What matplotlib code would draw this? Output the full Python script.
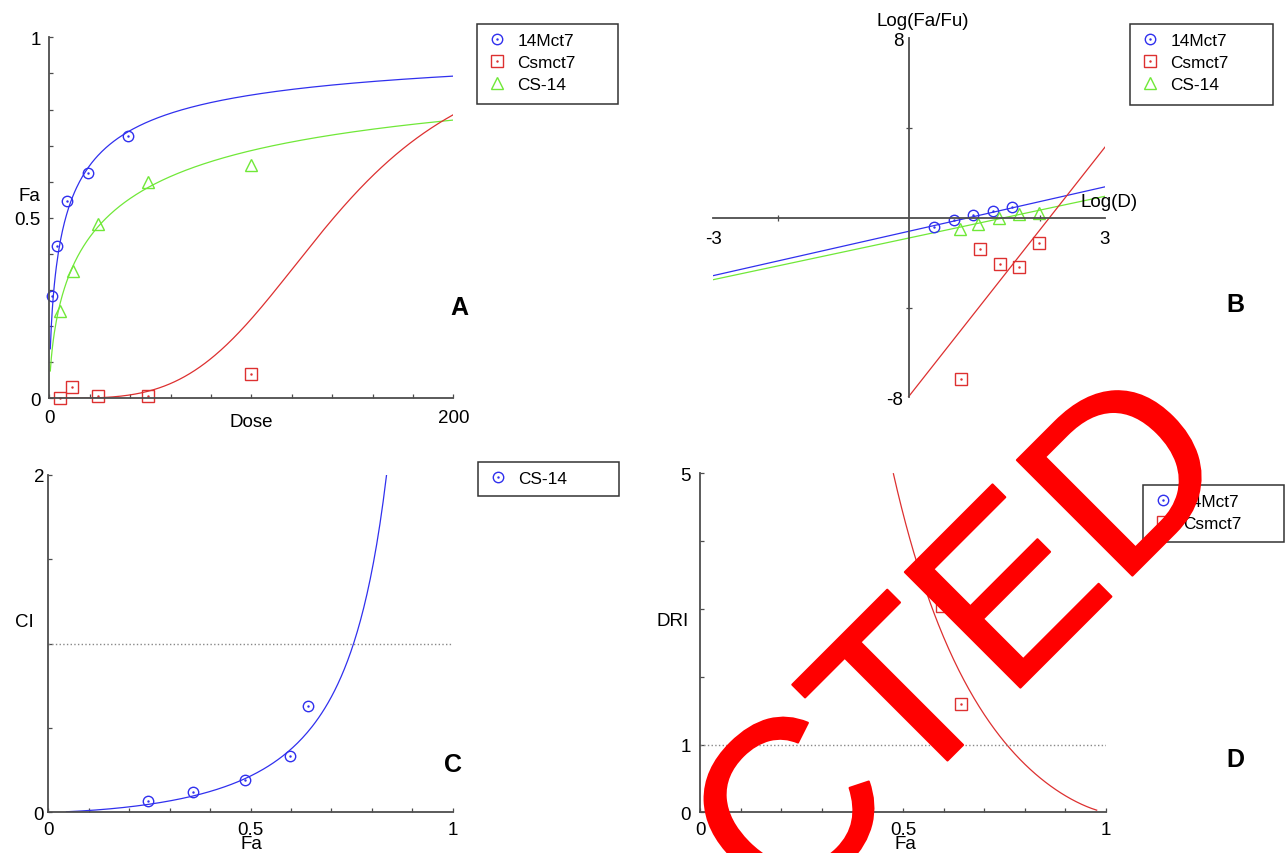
"""Four-panel drug combination figure: dose-effect, median-effect, CI and DRI."""

import numpy as np
import matplotlib

matplotlib.use("Agg")
import matplotlib.pyplot as plt
import matplotlib.patheffects as pe
from matplotlib.legend_handler import HandlerTuple
from matplotlib.patches import Rectangle

plt.rcParams["font.family"] = ["Liberation Sans", "DejaVu Sans"]

W, H = 1285, 854

# --- panel A: dose-effect points -------------------------------------------
a_dose_14 = [1.2, 4.0, 8.6, 19.0, 39.1]
a_fa_14 = [0.282, 0.421, 0.547, 0.624, 0.726]
a_dose_cs = [5.3, 11.4, 23.9, 49.0, 99.7]
a_fa_cs = [0.0, 0.032, 0.005, 0.005, 0.067]
a_dose_combo = [5.3, 11.6, 23.9, 49.0, 99.7]
a_fa_combo = [0.243, 0.354, 0.483, 0.598, 0.645]

# median-effect fit parameters (m, Dm)
m_14, dm_14 = 0.66, 8.1
m_cs, dm_cs = 3.7, 140.8
m_combo, dm_combo = 0.62, 28.3

# --- panel B: median-effect plot points --------------------------------------
b_logd_14 = [0.39, 0.69, 0.98, 1.28, 1.58]
b_logfa_14 = [-0.40, -0.10, 0.12, 0.31, 0.49]
b_logd_cs = [0.79, 1.08, 1.39, 1.68, 1.99]
b_logfa_cs = [-7.18, -1.41, -2.04, -2.18, -1.14]
b_logd_combo = [0.78, 1.06, 1.38, 1.68, 1.99]
b_logfa_combo = [-0.50, -0.28, -0.03, 0.16, 0.20]

# --- panel C: combination index ---------------------------------------------
c_fa = [0.247, 0.357, 0.487, 0.598, 0.641]
c_ci = [0.065, 0.118, 0.19, 0.335, 0.63]
ci_coef, ci_exp = 0.215, 1.367
ci_fa_range = (0.045, 0.84)

# --- panel D: dose reduction index ------------------------------------------
d_fa_cs = [0.595, 0.642]
d_dri_cs = [3.05, 1.60]
dri_coef, dri_exp = 4.40, 1.317
dri_fa_range = (0.476, 0.977)

BLUE = "#3030ee"
RED = "#dd3030"
GREEN = "#70e838"
SPINE = "#4d4d4d"


def px_axes(left, right, top, bottom):
    return [left / W, 1 - bottom / H, (right - left) / W, (bottom - top) / H]


def style(ax, pad):
    for side in ("top", "right"):
        ax.spines[side].set_visible(False)
    for side in ("left", "bottom"):
        ax.spines[side].set_color(SPINE)
        ax.spines[side].set_linewidth(1.3)
    ax.tick_params(which="both", direction="in", length=3, width=0.9,
                   color=SPINE, labelsize=13.5, pad=pad)
    ax.patch.set_alpha(0)


def points(ax, x, y, marker, color, size, dot=True):
    h = ax.plot(x, y, marker, ls="none", mfc="none", mec=color, ms=size, mew=1.0,
                clip_on=False)[0]
    if not dot:
        return h
    d = ax.plot(x, y, ".", ls="none", color=color, ms=1.5, clip_on=False)[0]
    return (h, d)


def legend(ax, handles, labels, box):
    x0, y0, x1, y1 = box
    fig = ax.figure
    fig.add_artist(Rectangle((x0 / W, 1 - y1 / H), (x1 - x0) / W, (y1 - y0) / H,
                             transform=fig.transFigure, fill=False,
                             edgecolor="#333333", lw=1.1))
    ax.legend(handles, labels, loc="upper left",
              bbox_to_anchor=((x0 + 10) / W, 1 - (y0 + 9) / H),
              bbox_transform=fig.transFigure, frameon=False, borderpad=0,
              borderaxespad=0, fontsize=12.4, handlelength=1.2,
              handletextpad=0.56, labelspacing=0.4,
              handler_map={tuple: HandlerTuple(ndivide=1, pad=0)})


def panel_letter(fig, s, x, y):
    fig.text(x / W, 1 - y / H, s, fontsize=18, fontweight="bold",
             ha="center", va="center")


fig = plt.figure(figsize=(W / 100, H / 100), dpi=100)

# ---------------- A ----------------
ax = fig.add_axes(px_axes(49.3, 453.3, 38.3, 399.3))
style(ax, 6)
dose = np.linspace(0.5, 200, 400)
for m, dm, col in ((m_14, dm_14, BLUE), (m_combo, dm_combo, GREEN), (m_cs, dm_cs, RED)):
    ax.plot(dose, 1 / (1 + (dm / dose) ** m), color=col, lw=0.9)
h1 = points(ax, a_dose_14, a_fa_14, "o", BLUE, 7.5)
h2 = points(ax, a_dose_cs, a_fa_cs, "s", RED, 9)
h3 = points(ax, a_dose_combo, a_fa_combo, "^", GREEN, 9, dot=False)
ax.set_xlim(0, 200)
ax.set_ylim(0, 1)
ax.set_xticks([0, 200])
ax.set_xticks(np.arange(20, 200, 20), minor=True)
ax.set_yticks([0, 0.5, 1], ["0", "0.5", "1"])
ax.set_yticks(np.arange(0.1, 1, 0.1), minor=True)
ax.tick_params(axis="x", pad=8)
ax.set_xlabel("Dose", fontsize=13.5, va="center")
ax.xaxis.set_label_coords(0.501, -0.064)
ax.set_ylabel("Fa", fontsize=13.5, rotation=0, ha="center", va="center")
ax.yaxis.set_label_coords(-0.0495, 0.563)
legend(ax, [h1, h2, h3], ["14Mct7", "Csmct7", "CS-14"], (477, 25, 618, 105))
panel_letter(fig, "A", 459, 308)

# ---------------- B ----------------
ax = fig.add_axes(px_axes(713, 1105, 39.3, 398.3))
style(ax, 4)
ax.spines["left"].set_position("zero")
ax.spines["bottom"].set_position("zero")
logd = np.linspace(-3, 3, 50)
for m, dm, col in ((m_14, dm_14, BLUE), (m_combo, dm_combo, GREEN), (m_cs, dm_cs, RED)):
    ax.plot(logd, m * (logd - np.log10(dm)), color=col, lw=0.9)
h1 = points(ax, b_logd_14, b_logfa_14, "o", BLUE, 7.5)
h2 = points(ax, b_logd_cs, b_logfa_cs, "s", RED, 9)
h3 = points(ax, b_logd_combo, b_logfa_combo, "^", GREEN, 9, dot=False)
ax.set_xlim(-3, 3)
ax.set_ylim(-8, 8)
ax.set_xticks([-3, 3], ["-3", "3"])
ax.set_xticks([-2, 2], minor=True)
ax.set_yticks([-8, 8], ["-8", "8"])
ax.set_yticks([-4, 4], minor=True)
ax.tick_params(which="major", length=0)
ax.tick_params(which="minor", direction="inout", length=5)
ax.tick_params(axis="x", pad=9)
fig.text(922.7 / W, 1 - 22 / H, "Log(Fa/Fu)", fontsize=13.5, ha="center", va="center")
fig.text(1081 / W, 1 - 203 / H, "Log(D)", fontsize=13.5, ha="left", va="center")
legend(ax, [h1, h2, h3], ["14Mct7", "Csmct7", "CS-14"], (1130, 25, 1272.7, 106))
panel_letter(fig, "B", 1235, 305)

# ---------------- C ----------------
ax = fig.add_axes(px_axes(48.3, 452.7, 476, 813.3))
style(ax, 3)
fa = np.linspace(*ci_fa_range, 200)
ax.plot(fa, ci_coef * (fa / (1 - fa)) ** ci_exp, color=BLUE, lw=0.9)
ax.axhline(1, color="#888888", ls=":", lw=1.0)
h1 = points(ax, c_fa, c_ci, "o", BLUE, 7.5)
ax.set_xlim(0, 1)
ax.set_ylim(0, 2)
ax.set_xticks([0, 0.5, 1], ["0", "0.5", "1"])
ax.set_xticks(np.arange(0.1, 1, 0.1), minor=True)
ax.set_yticks([0, 2], ["0", "2"])
ax.set_yticks([0.5, 1, 1.5], minor=True)
ax.tick_params(axis="x", pad=6)
ax.set_xlabel("Fa", fontsize=13.5, va="center")
ax.xaxis.set_label_coords(0.503, -0.092)
ax.set_ylabel("CI", fontsize=13.5, rotation=0, ha="center", va="center")
ax.yaxis.set_label_coords(-0.059, 0.565)
legend(ax, [h1], ["CS-14"], (478, 463, 619, 497))
panel_letter(fig, "C", 453, 765)

# ---------------- D ----------------
ax = fig.add_axes(px_axes(700.3, 1106, 474.3, 813.3))
style(ax, 7)
fa = np.linspace(*dri_fa_range, 200)
ax.plot(fa, dri_coef * (fa / (1 - fa)) ** (-dri_exp), color=RED, lw=0.9)
ax.axhline(1, color="#888888", ls=":", lw=1.0)
h1 = ax.plot([], [], "o", mfc="none", mec=BLUE, ms=7.5)[0]
h1 = (h1, ax.plot([], [], ".", color=BLUE, ms=1.5)[0])
h2 = points(ax, d_fa_cs, d_dri_cs, "s", RED, 9)
ax.set_xlim(0, 1)
ax.set_ylim(0, 5)
ax.set_xticks([0, 0.5, 1], ["0", "0.5", "1"])
ax.set_xticks(np.arange(0.1, 1, 0.1), minor=True)
ax.set_yticks([0, 1, 5], ["0", "1", "5"])
ax.set_yticks([2, 3, 4], minor=True)
ax.tick_params(axis="x", pad=6)
ax.set_xlabel("Fa", fontsize=13.5, va="center")
ax.xaxis.set_label_coords(0.5046, -0.093)
ax.set_ylabel("DRI", fontsize=13.5, rotation=0, ha="center", va="center")
ax.yaxis.set_label_coords(-0.069, 0.565)
legend(ax, [h1, h2], ["14Mct7", "Csmct7"], (1142.7, 486, 1284, 542.7))
panel_letter(fig, "D", 1235, 760)

# red stamp laid over the lower right panel
fig.text(1240 / W, 1 - 469 / H, "REDACTED", fontsize=171, color="#ff0000",
         rotation=45, rotation_mode="anchor", ha="right", va="baseline", zorder=100,
         path_effects=[pe.withStroke(linewidth=1.5, foreground="#ff0000")])

fig.savefig("out.png", dpi=100)
